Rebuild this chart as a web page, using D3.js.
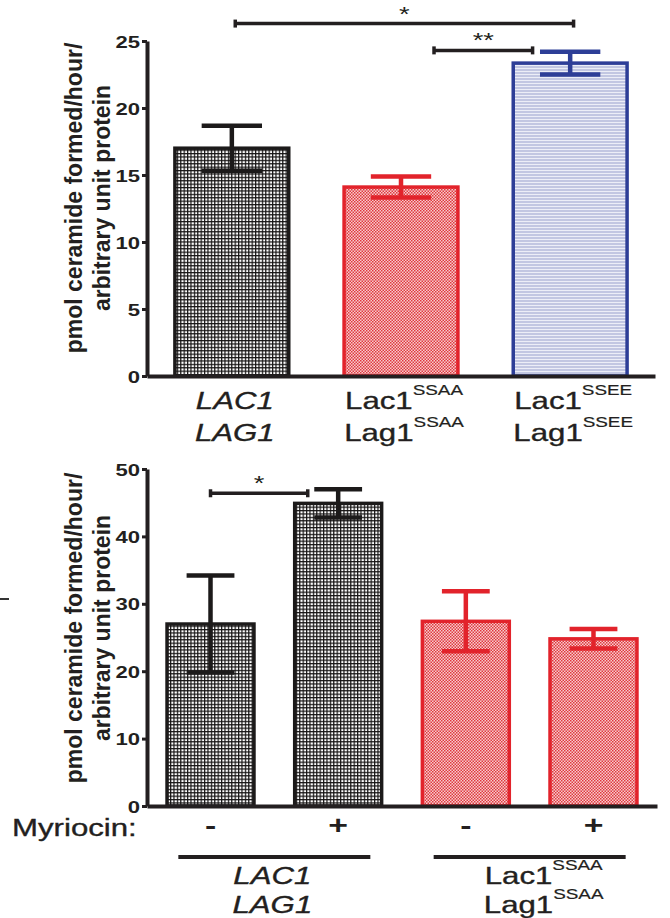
<!DOCTYPE html>
<html>
<head>
<meta charset="utf-8">
<script src="https://cdn.jsdelivr.net/npm/d3@7"></script>
<style>
  body { margin: 0; background: #fff; }
  text { font-family: "Liberation Sans", Arial, Helvetica, sans-serif; fill: #231f20; }
</style>
</head>
<body>
<div id="chart"></div>
<script>
// ---- data: top panel (ceramide synthase activity, strains) ----
var topMeans = [17.0, 14.1, 23.35];
var topErr = [1.68, 0.78, 0.85];
var topStyles = ["grid", "red", "blue"];
var topTicks = [0, 5, 10, 15, 20, 25];
var topName1 = ["LAC1", "Lac1", "Lac1"];
var topName2 = ["LAG1", "Lag1", "Lag1"];
var topSup = ["", "SSAA", "SSEE"];
var topItalic = [true, false, false];
// bracket: from bar, to bar, level (y units), label, end shifts in bar widths
var topBrackets = [
  { from: 0, to: 2, level: 26.3, label: "*", s0: 0.03, s1: 0.03 },
  { from: 1, to: 2, level: 24.3, label: "**", s0: 0.29, s1: -0.33 }
];

// ---- data: bottom panel (myriocin) ----
var botMeans = [27.0, 44.9, 27.4, 24.8];
var botErr = [7.2, 2.1, 4.45, 1.45];
var botStyles = ["grid", "grid", "red", "red"];
var botTicks = [0, 10, 20, 30, 40, 50];
var myriocin = ["-", "+", "-", "+"];
var botGroups = [
  { bars: [0, 1], name1: "LAC1", name2: "LAG1", sup: "", italic: true, dx: -2 },
  { bars: [2, 3], name1: "Lac1", name2: "Lag1", sup: "SSAA", italic: false, dx: 14 }
];
var botBrackets = [
  { from: 0, to: 1, level: 46.4, label: "*", s0: 0.0, s1: -0.35 }
];

var yTitle1 = "pmol ceramide formed/hour/";
var yTitle2 = "arbitrary unit protein";

var width = 670, height = 918;
var SX = 1.3;          // horizontal text stretch seen in the figure
var ink = "#231f20";
var strokeOf = { grid: "#1c1a1a", red: "#e2232b", blue: "#2d3e97" };

var svg = d3.select("#chart").append("svg")
  .attr("width", width)
  .attr("height", height);

// patterns
var defs = svg.append("defs");
var pg = defs.append("pattern").attr("id", "grid")
  .attr("patternUnits", "userSpaceOnUse").attr("width", 3.4).attr("height", 3.4);
pg.append("rect").attr("width", 3.4).attr("height", 3.4).attr("fill", "#fff");
pg.append("rect").attr("width", 3.4).attr("height", 1.2).attr("fill", "#141212");
pg.append("rect").attr("width", 1.2).attr("height", 3.4).attr("fill", "#141212");

var pr = defs.append("pattern").attr("id", "red")
  .attr("patternUnits", "userSpaceOnUse").attr("width", 3).attr("height", 3);
pr.append("rect").attr("width", 3).attr("height", 3).attr("fill", "#f6cdce");
pr.append("rect").attr("width", 1.5).attr("height", 1.5).attr("fill", "#e0383e");
pr.append("rect").attr("x", 1.5).attr("y", 1.5).attr("width", 1.5).attr("height", 1.5).attr("fill", "#e0383e");

var pb = defs.append("pattern").attr("id", "blue")
  .attr("patternUnits", "userSpaceOnUse").attr("width", 4).attr("height", 3);
pb.append("rect").attr("width", 4).attr("height", 3).attr("fill", "#c2c7e2");
pb.append("rect").attr("y", 2).attr("width", 4).attr("height", 1).attr("fill", "#eceef7");

// stretched text helper
function stext(parent, x, y, anchor) {
  return parent.append("g")
    .attr("transform", "translate(" + x + "," + y + ") scale(" + SX + ",1)")
    .append("text")
    .attr("text-anchor", anchor || "middle");
}

function panel(cfg) {
  var g = svg.append("g");
  var x = d3.scaleBand()
    .domain(d3.range(cfg.means.length))
    .range([147, cfg.xEnd])
    .paddingInner(cfg.pi)
    .paddingOuter(cfg.po);
  var y = d3.scaleLinear()
    .domain([0, d3.max(cfg.ticks)])
    .range([cfg.y0, cfg.yTop]);
  var bw = x.bandwidth();

  // bars
  g.selectAll("rect.bar")
    .data(cfg.means)
    .join("rect")
    .attr("class", "bar")
    .attr("x", function(d, i) { return x(i); })
    .attr("y", function(d) { return y(d); })
    .attr("width", bw)
    .attr("height", function(d) { return y(0) - y(d); })
    .attr("fill", function(d, i) { return "url(#" + cfg.styles[i] + ")"; })
    .attr("stroke", function(d, i) { return strokeOf[cfg.styles[i]]; })
    .attr("stroke-width", 3.5);

  // error bars
  var eb = g.selectAll("g.err")
    .data(cfg.means)
    .join("g")
    .attr("class", "err")
    .attr("stroke", function(d, i) { return strokeOf[cfg.styles[i]]; })
    .attr("stroke-width", 4.5);
  eb.append("line")
    .attr("x1", function(d, i) { return x(i) + bw / 2; })
    .attr("x2", function(d, i) { return x(i) + bw / 2; })
    .attr("y1", function(d, i) { return y(d - cfg.err[i]); })
    .attr("y2", function(d, i) { return y(d + cfg.err[i]); });
  [1, -1].forEach(function(sgn) {
    eb.append("line")
      .attr("x1", function(d, i) { return x(i) + bw / 2 - bw * cfg.cap / 2; })
      .attr("x2", function(d, i) { return x(i) + bw / 2 + bw * cfg.cap / 2; })
      .attr("y1", function(d, i) { return y(d + sgn * cfg.err[i]); })
      .attr("y2", function(d, i) { return y(d + sgn * cfg.err[i]); });
  });

  // y axis
  var yAxis = d3.axisLeft(y).tickValues(cfg.ticks).tickSize(5).tickSizeOuter(0).tickPadding(0);
  var ya = g.append("g")
    .attr("transform", "translate(147,0)")
    .call(yAxis)
    .attr("font-family", null)
    .attr("font-size", 17)
    .attr("font-weight", "bold");
  ya.select(".domain").attr("stroke", ink).attr("stroke-width", 4);
  ya.selectAll(".tick line").attr("stroke", ink).attr("stroke-width", 3);
  ya.selectAll(".tick text")
    .attr("fill", ink)
    .attr("x", -7 / SX)
    .attr("dy", "0.36em")
    .attr("transform", "scale(" + SX + ",1)");

  // x axis line
  var xa = g.append("g")
    .attr("transform", "translate(0," + y(0) + ")")
    .call(d3.axisBottom(x).tickValues([]).tickSizeOuter(0));
  xa.select(".domain").attr("stroke", ink).attr("stroke-width", 4);

  // significance brackets
  cfg.brackets.forEach(function(b) {
    var x1 = x(b.from) + bw / 2 + b.s0 * bw;
    var x2 = x(b.to) + bw / 2 + b.s1 * bw;
    var yy = y(b.level);
    g.append("line").attr("x1", x1).attr("x2", x2).attr("y1", yy).attr("y2", yy)
      .attr("stroke", ink).attr("stroke-width", 3.5);
    [x1, x2].forEach(function(xe) {
      g.append("line").attr("x1", xe).attr("x2", xe).attr("y1", yy - 4).attr("y2", yy + 4)
        .attr("stroke", ink).attr("stroke-width", 3.5);
    });
    stext(g, (x1 + x2) / 2, yy - 3).attr("font-size", 21).text(b.label);
  });

  // rotated y title
  [yTitle1, yTitle2].forEach(function(t, k) {
    g.append("text")
      .attr("transform", "translate(" + (cfg.titleX + k * 28) + "," + cfg.titleY + ") rotate(-90)")
      .attr("text-anchor", "middle")
      .attr("font-size", 23)
      .attr("font-weight", "bold")
      .text(t);
  });

  return { x: x, y: y, bw: bw, g: g };
}

function nameLine(parent, cx, yb, main, sup, italic) {
  var t = stext(parent, cx, yb)
    .attr("font-size", 24)
    .attr("stroke", ink)
    .attr("stroke-width", 0.35);
  if (italic) t.attr("font-style", "italic");
  t.append("tspan").text(main);
  if (sup) t.append("tspan").attr("font-size", 14.5).attr("dy", -14).attr("stroke-width", 0.2).text(sup);
}

// ---- top panel ----
var topP = panel({
  means: topMeans, err: topErr, styles: topStyles, ticks: topTicks,
  xEnd: 655, pi: 0.327, po: 0.165, y0: 376, yTop: 41, cap: 0.53,
  brackets: topBrackets, titleX: 82, titleY: 198
});
topMeans.forEach(function(d, i) {
  var cx = topP.x(i) + topP.bw / 2 + 3;
  nameLine(topP.g, cx, 409, topName1[i], topSup[i], topItalic[i]);
  nameLine(topP.g, cx, 441, topName2[i], topSup[i], topItalic[i]);
});

// ---- bottom panel ----
var botP = panel({
  means: botMeans, err: botErr, styles: botStyles, ticks: botTicks,
  xEnd: 657, pi: 0.319, po: 0.157, y0: 806, yTop: 469, cap: 0.55,
  brackets: botBrackets, titleX: 82, titleY: 628
});
stext(botP.g, 12, 836, "start")
  .attr("font-size", 24)
  .attr("stroke", ink).attr("stroke-width", 0.35)
  .text("Myriocin:");
myriocin.forEach(function(s, i) {
  stext(botP.g, botP.x(i) + botP.bw / 2, 834).attr("font-size", 26).attr("font-weight", "bold").text(s);
});
botGroups.forEach(function(gr) {
  var xa = botP.x(gr.bars[0]) + botP.bw / 2;
  var xb = botP.x(gr.bars[1]) + botP.bw / 2;
  var cx = (xa + xb) / 2;
  botP.g.append("line")
    .attr("x1", cx - 96).attr("x2", cx + 96)
    .attr("y1", 857).attr("y2", 857)
    .attr("stroke", ink).attr("stroke-width", 4);
  nameLine(botP.g, cx + gr.dx, 884, gr.name1, gr.sup, gr.italic);
  nameLine(botP.g, cx + gr.dx, 913, gr.name2, gr.sup, gr.italic);
});

// small mark at the left edge of the scan
svg.append("line").attr("x1", 0).attr("x2", 9).attr("y1", 599).attr("y2", 599)
  .attr("stroke", "#333").attr("stroke-width", 2);
</script>
</body>
</html>
